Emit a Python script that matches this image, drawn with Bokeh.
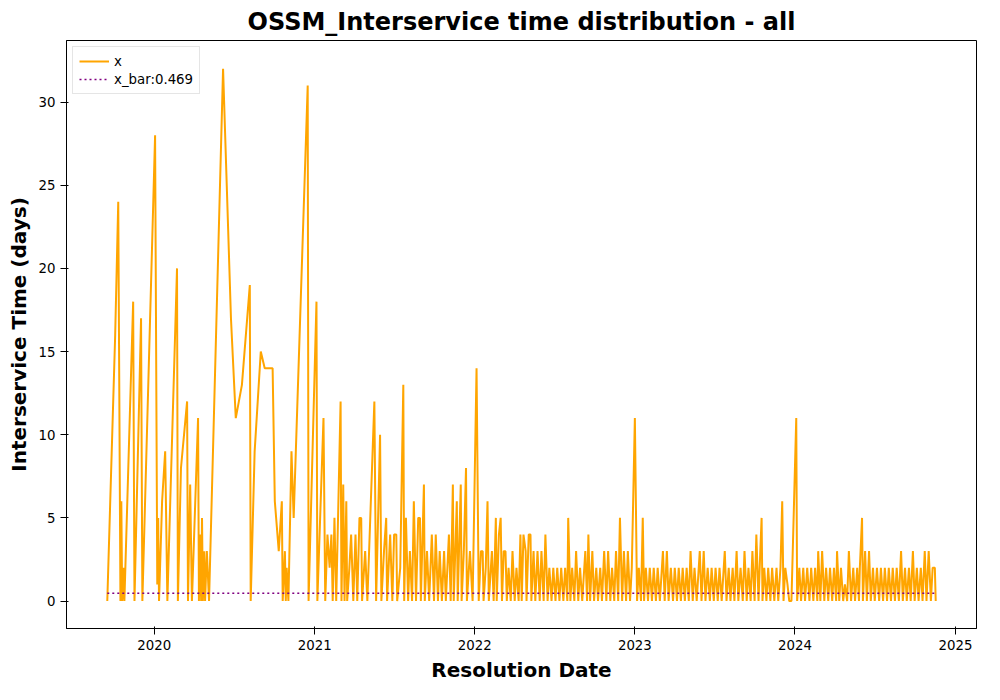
import datetime as dt
import pandas as pd
from bokeh.plotting import figure
from bokeh.models import FixedTicker, DatetimeTickFormatter, Range1d, Legend, LegendItem
from bokeh.embed import file_html
from bokeh.resources import INLINE

# days since 2020-01-01, interservice time (days)
days = [-107, -89, -82, -77, -75, -73, -70, -68, -48, -45, -30, -27, 2, 7, 9, 11, 18, 25, 30,
        52, 54, 61, 75, 77, 82, 86, 100, 102, 104, 107, 109, 111, 114, 116, 120, 125,
        157, 175, 186, 200, 218, 220, 229, 243, 252, 270, 275, 284, 291, 293, 298, 300, 302, 306,
        313, 318, 350, 352, 370, 372, 386, 390, 395, 400, 404, 407, 411, 415, 425, 427, 431, 434,
        438, 440, 445, 449, 454, 459, 463, 468, 472, 474, 481, 486, 502, 506, 515, 518, 524, 529,
        531, 538, 543, 547, 552, 554, 561, 568, 570, 574, 579, 583, 588, 592, 597, 602, 606, 608,
        615, 617, 622, 627, 633, 638, 642, 647, 651, 656, 661, 665, 672, 676, 681, 683, 690, 692,
        699, 701, 706, 711, 713, 720, 726, 735, 740, 745, 749, 751, 756, 760, 763, 770, 774, 779,
        781, 786, 790, 793, 797, 801, 804, 808, 813, 817, 822, 826, 831, 835, 838, 842, 847, 849,
        854, 858, 860, 865, 869, 874, 879, 883, 888, 892, 897, 901, 906, 910, 915, 919, 924, 928,
        933, 937, 942, 944, 949, 953, 958, 962, 967, 971, 976, 983, 987, 990, 994, 999, 1003, 1008,
        1012, 1017, 1021, 1026, 1031, 1035, 1040, 1044, 1049, 1053, 1058, 1062, 1067, 1071, 1076,
        1080, 1085, 1089, 1096, 1101, 1105, 1110, 1114, 1117, 1121, 1126, 1130, 1135, 1139, 1144,
        1148, 1153, 1160, 1164, 1169, 1173, 1178, 1183, 1187, 1192, 1196, 1201, 1205, 1210, 1214,
        1219, 1223, 1228, 1232, 1237, 1244, 1248, 1253, 1257, 1262, 1267, 1271, 1276, 1280, 1285,
        1289, 1294, 1301, 1305, 1310, 1314, 1319, 1323, 1328, 1332, 1337, 1342, 1346, 1351, 1355,
        1360, 1364, 1369, 1373, 1378, 1382, 1385, 1387, 1391, 1396, 1400, 1405, 1409, 1414, 1419,
        1423, 1428, 1432, 1435, 1439, 1444, 1448, 1453, 1464, 1466, 1471, 1475, 1480, 1484, 1489,
        1494, 1498, 1503, 1507, 1512, 1514, 1519, 1523, 1528, 1532, 1537, 1541, 1546, 1550, 1555,
        1557, 1562, 1566, 1571, 1575, 1580, 1584, 1589, 1594, 1598, 1603, 1607, 1609, 1614, 1616,
        1621, 1625, 1630, 1634, 1639, 1643, 1648, 1653, 1657, 1662, 1666, 1671, 1675, 1680, 1684,
        1689, 1693, 1698, 1703, 1707, 1712, 1716, 1721, 1725, 1730, 1734, 1739, 1743, 1748, 1752,
        1757, 1761, 1766, 1771, 1775, 1780, 1782]
values = [0, 16, 24, 0, 6, 0, 2, 0, 18, 0, 17, 0, 28, 1, 5, 0, 6, 9, 0,
          20, 0, 8, 12, 0, 7, 0, 11, 0, 4, 0, 5, 0, 3, 0, 3, 0,
          32, 17, 11, 13, 19, 0, 9, 15, 14, 14, 6, 3, 6, 0, 3, 0, 2, 0,
          9, 5, 31, 0, 18, 0, 11, 0, 4, 2, 4, 0, 5, 0, 12, 0, 7, 0,
          6, 0, 2, 4, 0, 4, 0, 5, 5, 0, 3, 0, 12, 0, 10, 0, 3, 5,
          0, 4, 0, 4, 4, 0, 2, 13, 0, 5, 0, 3, 0, 6, 0, 5, 5, 0,
          7, 0, 3, 0, 4, 0, 4, 0, 3, 0, 3, 0, 4, 0, 7, 0, 6, 0,
          7, 0, 3, 8, 0, 3, 0, 14, 0, 3, 3, 0, 2, 6, 0, 3, 0, 5,
          0, 4, 5, 0, 3, 3, 0, 2, 0, 3, 0, 2, 0, 4, 0, 4, 3, 0,
          4, 4, 0, 3, 0, 3, 0, 3, 0, 4, 0, 2, 0, 2, 0, 2, 0, 2,
          0, 2, 0, 5, 0, 2, 0, 3, 0, 2, 0, 3, 0, 4, 0, 3, 0, 2,
          0, 2, 0, 3, 0, 3, 0, 2, 0, 3, 0, 5, 0, 3, 0,
          3, 0, 2, 11, 0, 2, 0, 5, 0, 2, 0, 2, 0, 2, 0,
          2, 0, 3, 0, 3, 0, 2, 0, 2, 0, 2, 0, 2, 0, 2,
          0, 3, 0, 2, 0, 3, 0, 3, 0, 2, 0, 2, 0, 2, 0,
          2, 0, 3, 0, 2, 0, 2, 0, 3, 0, 2, 0, 3, 0, 2,
          0, 3, 0, 4, 0, 3, 5, 0, 2, 0, 2, 0, 2, 0, 2,
          0, 2, 6, 0, 2, 1, 0, 0, 11, 0, 2, 0, 2, 0, 2,
          0, 2, 0, 2, 0, 3, 0, 3, 0, 2, 0, 2, 0, 2, 0,
          3, 0, 2, 0, 1, 0, 3, 0, 2, 0, 2, 0, 2, 5, 0,
          3, 0, 3, 0, 2, 0, 2, 0, 2, 0, 2, 0, 2, 0, 2,
          0, 2, 0, 3, 0, 2, 0, 2, 0, 3, 0, 2, 0, 2, 0,
          3, 0, 3, 0, 2, 2, 0]
x_bar = 0.469

start = pd.Timestamp("2020-01-01")
dates = [start + pd.Timedelta(days=d) for d in days]

p = figure(width=984, height=684, x_axis_type="datetime", output_backend="svg",
           toolbar_location=None, tools="",
           title="OSSM_Interservice time distribution - all",
           x_range=Range1d(pd.Timestamp("2019-06-15"), pd.Timestamp("2025-02-18")),
           y_range=Range1d(-1.65, 33.7))
p.title.align = "center"
p.title.text_font_size = "18pt"
p.title.text_font = "DejaVu Sans"
p.title.text_font_style = "bold"
p.title.text_color = "black"
p.grid.visible = False
p.outline_line_color = "black"
p.min_border_left = 66
p.min_border_top = 36
p.min_border_right = 8

ln = p.line(dates, values, line_width=2, color="orange")
mn = p.line([dates[0], dates[-1]], [x_bar, x_bar], line_width=1.5, color="purple", line_dash="2 3")

p.xaxis.ticker = FixedTicker(ticks=[dt.datetime(y, 1, 1).timestamp() * 1000 for y in range(2020, 2026)])
p.xaxis.formatter = DatetimeTickFormatter(years="%Y", months="%Y", days="%Y")
p.yaxis.ticker = FixedTicker(ticks=[0, 5, 10, 15, 20, 25, 30])
p.xaxis.axis_label = "Resolution Date"
p.yaxis.axis_label = "Interservice Time (days)"
for ax in (p.xaxis, p.yaxis):
    ax.axis_label_text_font = "DejaVu Sans"
    ax.axis_label_text_font_size = "15pt"
    ax.axis_label_text_font_style = "bold"
    ax.axis_label_text_color = "black"
    ax.major_label_text_font = "DejaVu Sans"
    ax.major_label_text_font_size = "10pt"
    ax.major_label_text_color = "black"
    ax.major_tick_line_color = "black"
    ax.minor_tick_line_color = None
    ax.axis_line_color = "black"

legend = Legend(items=[LegendItem(label="x", renderers=[ln]),
                       LegendItem(label="x_bar:0.469", renderers=[mn])],
                location="top_left", label_text_font="DejaVu Sans", label_text_font_size="10pt",
                label_text_color="black", border_line_color="#cccccc", spacing=2, padding=6,
                glyph_height=16, glyph_width=30, margin=6)
p.add_layout(legend)

open("out.html", "w").write(file_html(p, INLINE))
